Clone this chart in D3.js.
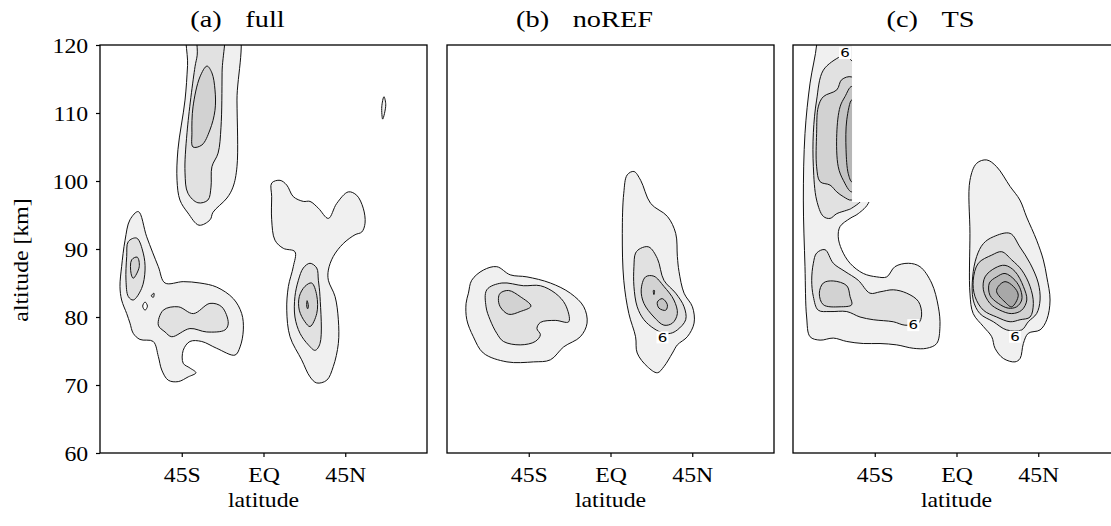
<!DOCTYPE html>
<html lang="en">
<head>
<meta charset="UTF-8">
<script src="https://cdn.jsdelivr.net/npm/d3@7"></script>
<title>Latitude-altitude contours</title>
<style>
  body { margin: 0; background: #fff; }
  svg text { font-family: "Liberation Serif", "Times New Roman", serif; fill: #000; }
  .clabel { font-family: "DejaVu Sans", sans-serif; }
</style>
</head>
<body>
<svg id="chart" width="1111" height="526"></svg>
<script>
// axis ticks and titles
const latTicks = [-45, 0, 45];
const latTickLabels = ["45S", "EQ", "45N"];
const altTicks = [60, 70, 80, 90, 100, 110, 120];
const panelLetters = ["(a)", "(b)", "(c)"];
const panelNames = ["full", "noREF", "TS"];
const levelFills = ["#f0f0f0", "#e1e1e1", "#d2d2d2", "#c4c4c4", "#b6b6b6", "#a8a8a8"];

// contour outlines, [latitude, altitude km]
// (a) full
const fullUpper1 = [[-40.8,123],[-41.8,117],[-43.2,111.9],[-47.1,104.6],[-47.6,100.1],[-46.0,97.2],[-41.6,95.3],[-35.5,93.5],[-29.4,94.3],[-27.8,95.4],[-20.1,97.5],[-16.8,99.1],[-14.6,102.1],[-14.6,111.9],[-15.1,123]];
const fullUpper2 = [[-35.5,123],[-36.5,118.5],[-37.7,116.8],[-42.1,107.1],[-43.2,101.2],[-41.6,98.2],[-36.1,96.8],[-30.6,97.2],[-28.9,99.1],[-28.4,102.1],[-25.0,104.1],[-23.4,107.9],[-22.8,116],[-22.8,123]];
const fullUpper3 = [[-31.1,116.9],[-35.0,115.3],[-38.8,110.9],[-39.4,107.1],[-38.8,105.0],[-33.9,105.3],[-29.5,107.5],[-26.7,110.4],[-26.7,113.4],[-28.4,115.9]];
const fullSouth1 = [[-68.9,95.5],[-64.3,91.8],[-57.9,87.4],[-54.2,85.0],[-44.2,85.2],[-35.0,85.0],[-25.8,84.4],[-16.6,82.7],[-12.0,80.5],[-11.1,78.1],[-12.9,75.6],[-15.7,74.4],[-25.8,75.4],[-34.0,76.4],[-40.5,76.4],[-44.2,75.1],[-44.2,73.2],[-40.5,72.5],[-37.2,71.8],[-41.4,71.2],[-46.9,70.5],[-52.4,70.7],[-56.0,72.2],[-57.9,74.2],[-60.7,76.4],[-68.0,76.7],[-71.7,77.6],[-73.5,79.1],[-75.3,80.5],[-78.1,82.5],[-79.0,84.5],[-78.1,87.4],[-76.2,91.3],[-73.5,94.3]];
const fullSouth2a = [[-74.4,91.1],[-69.8,91.6],[-66.2,89.4],[-65.2,86.9],[-67.1,84.2],[-71.7,82.5],[-74.4,83.0],[-75.7,85.4],[-75.3,88.9]];
const fullSouth3a = [[-72.6,88.4],[-69.5,88.8],[-68.4,87.4],[-71.7,85.7],[-72.9,86.4]];
const fullSouth2b = [[-55.2,81.0],[-46.9,81.5],[-38.6,80.5],[-29.5,82.0],[-23.0,81.5],[-19.4,79.1],[-21.2,78.1],[-31.3,77.8],[-40.5,78.3],[-50.5,77.1],[-54.2,77.8],[-57.9,78.8]];
const fullHole = [[-66.5,81.6],[-65.2,82.2],[-63.9,81.6],[-65.2,81.0]];
const fullSpeck = [[-61.8,83.1],[-60.3,83.5],[-60.6,82.9]];
const fullNorth1 = [[4.5,99.7],[9.1,100.1],[12.8,99.4],[16.4,97.7],[21.9,97.0],[25.6,97.0],[30.2,96.0],[35.7,94.5],[40.3,96.7],[46.7,98.4],[51.3,97.9],[54.9,96.0],[55.9,93.8],[54.1,92.5],[50.4,92.1],[43.9,90.8],[38.4,88.9],[35.7,86.9],[35.7,85.4],[39.4,83.0],[41.2,79.6],[41.2,76.1],[38.4,72.7],[34.8,70.7],[29.3,70.3],[25.6,71.2],[21.0,73.7],[14.6,77.1],[12.8,81.0],[13.7,84.5],[16.4,87.4],[17.3,89.6],[10.9,90.1],[6.3,91.3],[4.5,94.3],[4.5,97.7]];
const fullNorth2 = [[25.6,87.9],[29.3,87.2],[30.2,85.4],[31.1,83.0],[31.1,76.1],[28.4,75.1],[24.7,75.9],[20.1,77.6],[17.3,80.0],[17.3,83.0],[19.2,85.4],[21.9,87.2]];
const fullNorth3 = [[22.8,84.5],[26.5,85.0],[29.3,83.2],[29.3,80.5],[25.6,78.6],[22.8,79.3],[19.7,81.0],[19.7,83.0]];
const fullNorth4 = [[24.0,82.4],[24.7,81.6],[24.3,81.2],[23.8,81.6]];
const fullPolar1 = [[66.3,112.4],[67.3,111.2],[65.6,109.1],[65.1,110.9]];

// (b) noREF
const noRefSouth1 = [[-78.2,83.5],[-76.4,85.4],[-70.0,86.9],[-62.6,87.4],[-55.2,86.2],[-46.0,85.9],[-33.1,85.0],[-22.1,83.5],[-14.7,81.5],[-12.9,79.1],[-16.6,77.1],[-25.8,75.6],[-33.1,73.7],[-42.3,73.4],[-57.0,73.4],[-70.0,74.7],[-75.5,77.1],[-79.1,79.6],[-79.5,82.0]];
const noRefSouth2 = [[-68.1,84.0],[-59.8,85.0],[-47.9,84.6],[-38.6,84.6],[-30.4,83.5],[-24.8,81.8],[-23.0,79.3],[-30.4,79.5],[-38.6,79.2],[-40.5,78.3],[-38.6,77.4],[-41.4,76.4],[-49.7,75.9],[-58.9,76.4],[-62.6,77.6],[-66.3,79.6],[-68.5,81.5]];
const noRefSouth3 = [[-60.7,83.5],[-56.1,83.9],[-49.7,83.0],[-43.8,81.6],[-49.7,80.8],[-56.1,80.4],[-60.7,81.5],[-61.7,82.7]];
const noRefNorth1 = [[9.2,100.9],[12.9,101.4],[16.6,100.1],[22.1,96.7],[31.3,94.8],[35.9,92.3],[36.8,88.9],[37.7,86.7],[40.5,83.5],[45.1,81.5],[46.0,79.1],[42.3,77.1],[36.8,75.9],[34.1,74.7],[29.4,72.7],[25.8,71.8],[20.3,72.7],[14.7,74.7],[13.8,77.1],[10.1,80.5],[7.3,85.4],[6.5,92.3],[7.3,98.2]];
const noRefNorth2 = [[16.6,90.1],[21.1,90.3],[25.8,88.6],[29.4,85.4],[35.9,83.5],[40.5,81.5],[41.4,79.6],[36.8,78.1],[33.1,77.6],[29.4,77.6],[23.9,78.3],[18.4,79.6],[14.7,81.5],[12.9,84.5],[12.9,87.4],[13.8,89.4]];
const noRefNorth3 = [[19.3,85.9],[23.9,86.0],[29.4,84.5],[34.9,82.5],[36.8,80.5],[34.1,79.1],[29.4,78.8],[23.9,80.0],[18.4,82.0],[16.9,84.0]];
const noRefNorth4 = [[28.5,82.7],[31.3,81.8],[30.4,81.0],[26.7,81.3],[25.8,82.2]];
const noRefSpeck = [[23.6,83.9],[24.2,83.9],[23.9,83.3]];

// (c) TS
const tsSouth1 = [[-77.0,123],[-77.0,120],[-80.6,114.4],[-83.4,107.0],[-84.3,97.2],[-83.4,87.4],[-82.5,80.0],[-80.6,77.1],[-75.1,76.6],[-67.8,76.9],[-60.4,76.4],[-51.3,76.1],[-42.1,76.1],[-32.9,75.9],[-23.8,75.4],[-16.4,75.4],[-10.9,76.1],[-9.1,78.6],[-10.0,81.5],[-13.7,85.0],[-20.1,87.4],[-26.5,87.9],[-33.9,87.4],[-38.4,85.9],[-43.9,85.9],[-51.3,86.4],[-58.6,87.9],[-63.2,89.9],[-65.1,91.8],[-64.1,93.3],[-58.6,94.5],[-54.1,95.2],[-48,97],[-45,105],[-45,123]];
const tsUpper2 = [[-57.0,117.5],[-61.4,118.6],[-64.1,118.3],[-73.3,116.3],[-77.0,111.9],[-78.8,107.1],[-78.8,102.1],[-77.0,97.2],[-73.3,94.8],[-69.6,94.5],[-65.9,95.2],[-60.4,95.7],[-57.7,96.0],[-50,98],[-48,108],[-50,116]];
const tsUpper3 = [[-57.7,115.3],[-63.2,114.9],[-65.9,113.4],[-73.3,112.4],[-76.1,110.9],[-77.0,107.0],[-77.0,102.1],[-75.1,99.9],[-69.6,99.4],[-65.9,98.4],[-62.3,97.7],[-57.7,97.2],[-52,99],[-51,113]];
const tsUpper4 = [[-57.7,113.9],[-61.4,112.4],[-64.1,110.9],[-65.9,107.0],[-65.1,102.1],[-62.3,100.1],[-57.7,98.4],[-53,100],[-53,112]];
const tsUpper5 = [[-57.7,111.9],[-60.4,109.0],[-60.8,104.6],[-59.6,101.1],[-57.7,99.9],[-55,102],[-55,110]];
const tsLower2 = [[-77.0,89.4],[-72.4,89.9],[-67.8,87.9],[-61.4,86.7],[-54.1,85.4],[-47.6,83.5],[-42.1,83.7],[-34.8,84.0],[-27.4,83.5],[-21.0,82.3],[-19.2,80.3],[-21.0,79.1],[-28.4,78.8],[-34.8,79.3],[-45.8,79.6],[-53.1,80.0],[-60.4,80.8],[-69.6,80.8],[-76.1,81.0],[-78.8,83.0],[-79.7,85.4],[-78.8,87.9]];
const tsLower3 = [[-73.3,85.0],[-67.8,85.3],[-60.4,84.6],[-58.6,83.0],[-57.7,81.8],[-64.1,81.5],[-73.3,81.8],[-75.5,83.5]];
const tsNorth1 = [[11.1,102.6],[16.6,103.1],[22.1,102.1],[29.5,99.2],[34.9,97.2],[38.6,94.7],[44.1,91.3],[47.8,88.4],[49.7,85.9],[51.5,82.5],[49.7,79.6],[46.0,78.1],[39.5,77.6],[36.8,76.1],[35.0,73.9],[32.2,73.4],[25.8,73.9],[21.2,75.4],[19.4,77.1],[14.8,78.6],[9.2,80.5],[7.4,83.5],[7.4,92.3],[7.4,100.1]];
const tsNorth2 = [[20.3,91.8],[29.5,92.3],[34.9,90.3],[40.5,87.9],[45.0,85.0],[46.0,82.5],[44.1,80.5],[39.5,79.3],[35.9,78.1],[27.6,78.1],[20.3,79.3],[12.9,80.5],[9.2,82.5],[8.9,85.9],[11.1,88.9],[14.8,90.8]];
const tsNorth3 = [[19.4,89.1],[24.9,89.6],[30.4,88.4],[35.9,86.9],[40.5,84.5],[42.3,82.0],[40.5,80.0],[35.0,79.6],[29.5,79.3],[22.1,80.0],[14.8,81.0],[10.2,83.0],[9.2,85.4],[12.0,87.9]];
const tsNorth4 = [[21.2,87.2],[26.7,87.6],[32.2,86.7],[36.8,84.5],[38.7,82.5],[35.9,81.0],[30.4,80.5],[23.9,81.0],[18.4,82.0],[14.8,84.0],[15.7,85.9]];
const tsNorth5 = [[22.1,85.9],[26.7,86.4],[32.2,85.4],[35.3,84.0],[35.9,82.5],[33.1,81.5],[28.5,81.3],[23.0,82.0],[18.4,83.2],[18.1,85.0]];
const tsNorth6 = [[23.0,84.5],[26.7,85.2],[31.3,84.5],[34.0,83.2],[30.4,81.5],[26.7,82.2],[22.1,83.7]];
// region of panel (c) with no data: [lat from, lat to, alt from]
const tsGap = [-57.5, -5, 96.9];

// contour labels "6", [lat, alt]
const noRefLabels = [[28.6, 77.0]];
const tsLabels = [[-61.4, 118.8], [-23.8, 78.8], [32.2, 77.1]];

// level 0 = white hole
const panels = [
  { shapes: [[1, fullUpper1], [2, fullUpper2], [3, fullUpper3], [1, fullSouth1], [2, fullSouth2a], [3, fullSouth3a],
             [2, fullSouth2b], [0, fullHole], [2, fullSpeck], [1, fullNorth1], [2, fullNorth2], [3, fullNorth3],
             [4, fullNorth4], [1, fullPolar1]], labels: [], gap: null },
  { shapes: [[1, noRefSouth1], [2, noRefSouth2], [3, noRefSouth3], [1, noRefNorth1], [2, noRefNorth2],
             [3, noRefNorth3], [4, noRefNorth4], [4, noRefSpeck]], labels: noRefLabels, gap: null },
  { shapes: [[1, tsSouth1], [2, tsUpper2], [3, tsUpper3], [4, tsUpper4], [5, tsUpper5], [2, tsLower2], [3, tsLower3],
             [1, tsNorth1], [2, tsNorth2], [3, tsNorth3], [4, tsNorth4], [5, tsNorth5], [6, tsNorth6]],
    labels: tsLabels, gap: tsGap }
];

const svg = d3.select("#chart");
const panelLeft = [100, 447, 793];
const plotW = 327, plotTop = 45, plotH = 408;

panels.forEach((p, i) => {
    const x0 = panelLeft[i];
    const x = d3.scaleLinear().domain([-90, 90]).range([x0, x0 + plotW]);
    const y = d3.scaleLinear().domain([60, 120]).range([plotTop + plotH, plotTop]);
    const g = svg.append("g");

    svg.append("clipPath").attr("id", "clip" + i)
        .append("rect").attr("x", x0).attr("y", plotTop).attr("width", plotW).attr("height", plotH);
    const body = g.append("g").attr("clip-path", `url(#clip${i})`);

    const line = d3.line()
        .x(d => x(d[0]))
        .y(d => y(d[1]))
        .curve(d3.curveCatmullRomClosed.alpha(0.5));

    body.selectAll("path")
        .data(p.shapes)
        .join("path")
        .attr("d", d => line(d[1]))
        .attr("fill", d => d[0] === 0 ? "#fff" : levelFills[d[0] - 1])
        .attr("stroke", "#111")
        .attr("stroke-width", 1);

    // blank area with no data
    if (p.gap) {
        body.append("rect")
            .attr("x", x(p.gap[0])).attr("y", y(120))
            .attr("width", x(p.gap[1]) - x(p.gap[0])).attr("height", y(p.gap[2]) - y(120))
            .attr("fill", "#fff");
    }

    // contour labels
    p.labels.forEach(l => {
        const lg = body.append("g").attr("transform", `translate(${x(l[0])},${y(l[1])})`);
        lg.append("rect").attr("x", -6).attr("y", -6).attr("width", 12).attr("height", 12).attr("fill", "#fff");
        lg.append("text").attr("class", "clabel")
            .attr("text-anchor", "middle").attr("dy", "0.36em")
            .attr("font-size", 12)
            .attr("transform", "scale(1.25,1)")
            .text("6");
    });

    // frame
    g.append("rect")
        .attr("x", x0).attr("y", plotTop).attr("width", plotW).attr("height", plotH)
        .attr("fill", "none").attr("stroke", "#000").attr("stroke-width", 1.3);

    // x axis
    const xa = g.append("g")
        .attr("transform", `translate(0,${plotTop + plotH})`)
        .call(d3.axisBottom(x).tickValues(latTicks).tickFormat((d, k) => latTickLabels[k]).tickSize(4).tickPadding(9));
    xa.select(".domain").remove();
    xa.selectAll("line").attr("stroke", "#000").attr("stroke-width", 1.2);
    xa.selectAll("text")
        .attr("font-family", null).attr("font-size", 22)
        .attr("transform", "scale(1.08,1)");

    g.append("text")
        .attr("transform", `translate(${x(0)},507) scale(1.08,1)`)
        .attr("text-anchor", "middle").attr("font-size", 22)
        .text("latitude");

    // y axis only on the first panel
    if (i === 0) {
        const ya = g.append("g")
            .attr("transform", `translate(${x0},0)`)
            .call(d3.axisLeft(y).tickValues(altTicks).tickSize(4).tickPadding(7));
        ya.select(".domain").remove();
        ya.selectAll("line").attr("stroke", "#000").attr("stroke-width", 1.2);
        ya.selectAll("text")
            .attr("font-family", null).attr("font-size", 22)
            .attr("transform", "scale(1.08,1)");

        g.append("text")
            .attr("transform", "translate(28,260) rotate(-90) scale(1.08,1)")
            .attr("text-anchor", "middle").attr("font-size", 22)
            .text("altitude [km]");
    }

    // title
    const t = g.append("text")
        .attr("transform", `translate(${x(0) - 26},27) scale(1.18,1)`)
        .attr("text-anchor", "middle").attr("font-size", 24);
    t.append("tspan").text(panelLetters[i]);
    t.append("tspan").attr("dx", 20).text(panelNames[i]);
});
</script>
</body>
</html>
